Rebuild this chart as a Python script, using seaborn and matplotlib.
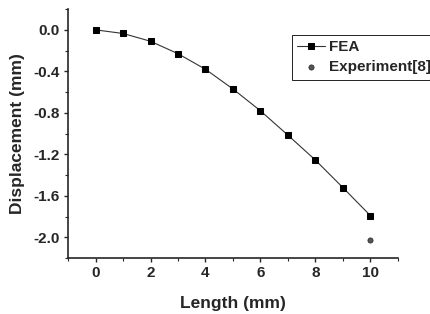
import numpy as np
import pandas as pd
import matplotlib
matplotlib.use("Agg")
import matplotlib.pyplot as plt
from matplotlib.ticker import MultipleLocator
import seaborn as sns

# Dados
comprimento = [0, 1, 2, 3, 4, 5, 6, 7, 8, 9, 10]
desloc_fea = [0.0, -0.035, -0.11, -0.23, -0.38, -0.57, -0.78, -1.015, -1.255, -1.52, -1.79]
comprimento_exp = [10]
desloc_exp = [-2.03]

sns.set_style("ticks")
plt.rcParams["font.family"] = ["Liberation Sans", "DejaVu Sans"]
plt.rcParams["font.weight"] = "bold"

fea = pd.DataFrame({"Length": comprimento, "Displacement": desloc_fea})
exp = pd.DataFrame({"Length": comprimento_exp, "Displacement": desloc_exp})

fig = plt.figure(figsize=(4.31, 3.14), dpi=100)
ax = fig.add_axes([0.158, 0.178, 0.765, 0.793])

sns.lineplot(data=fea, x="Length", y="Displacement", ax=ax, color="#333333", lw=0.8,
             marker="s", markersize=4.5, markerfacecolor="black", markeredgecolor="black",
             label="FEA")
sns.scatterplot(data=exp, x="Length", y="Displacement", ax=ax, marker="o", s=14,
                color="#555555", edgecolor="#222222", linewidth=0.5, label="Experiment[8]")

ax.set_xlim(-1, 11)
ax.set_ylim(-2.2, 0.2)
ax.xaxis.set_major_locator(MultipleLocator(2))
ax.xaxis.set_minor_locator(MultipleLocator(1))
ax.yaxis.set_major_locator(MultipleLocator(0.4))
ax.yaxis.set_minor_locator(MultipleLocator(0.2))
ax.yaxis.set_major_formatter(plt.FormatStrFormatter("%.1f"))
ax.tick_params(which="major", direction="out", length=3, width=1, labelsize=11, pad=3)
ax.tick_params(which="minor", direction="out", length=2, width=0.8)
for lab in ax.get_xticklabels() + ax.get_yticklabels():
    lab.set_fontweight("bold")

sns.despine(ax=ax)
for s in ["left", "bottom"]:
    ax.spines[s].set_linewidth(1.2)

ax.set_xlabel("Length (mm)", fontsize=12.5, fontweight="bold", labelpad=11)
ax.set_ylabel("Displacement (mm)", fontsize=12.5, fontweight="bold", labelpad=6)

leg = ax.legend(loc="upper left", bbox_to_anchor=(292 / 431, 1 - 35 / 314),
                bbox_transform=fig.transFigure, fancybox=False, framealpha=1,
                edgecolor="black", fontsize=11, handlelength=1.8, handletextpad=0.25,
                borderpad=0.35, labelspacing=0.4, borderaxespad=0)
leg.get_frame().set_linewidth(0.6)
for t in leg.get_texts():
    t.set_fontweight("bold")

fig.savefig("out.png", dpi=100)
